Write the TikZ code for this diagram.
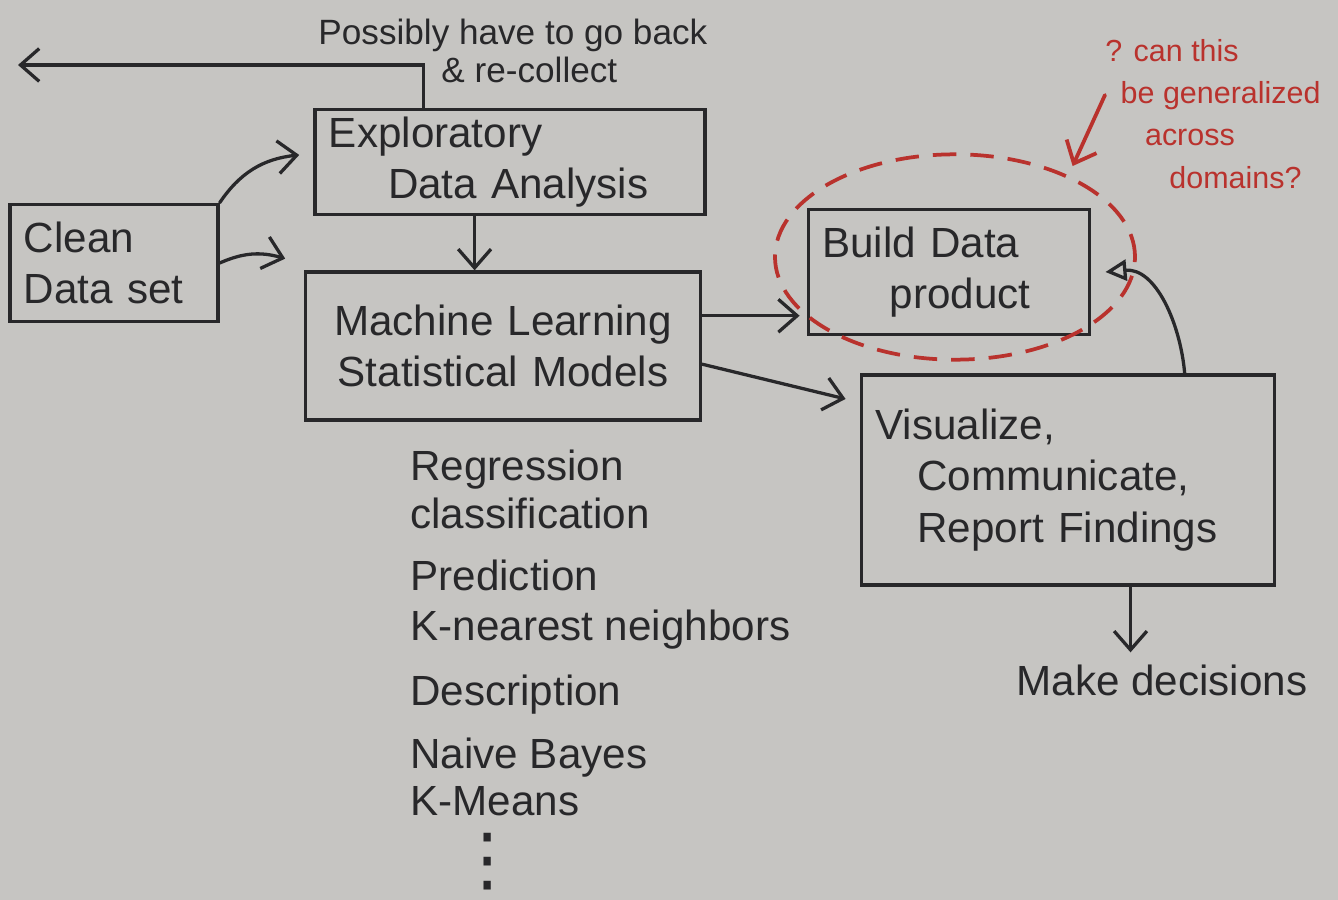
\documentclass[tikz,border=0pt]{standalone}
\usepackage{fontspec}
\setmainfont{Liberation Sans}
\newfontfamily\dotsfont{DejaVu Sans}
\usetikzlibrary{calc,arrows.meta,shapes.geometric}
\definecolor{paper}{RGB}{198,197,194}
\definecolor{ink}{RGB}{40,40,42}
\definecolor{redink}{RGB}{185,50,45}
\tikzset{
  box/.style={draw=ink,line width=1.4pt,text=ink,align=left,inner xsep=6pt,inner ysep=2pt},
  hand/.style={text=ink,align=left,inner sep=0pt},
  pen/.style={draw=ink,line width=1.4pt,line cap=round,->},
  redpen/.style={draw=redink,line width=1.6pt,line cap=round,->},
}

\begin{document}
\begin{tikzpicture}[x=0.015cm,y=-0.015cm,>={Straight Barb[length=8pt,width=14pt]},font=\fontsize{18}{22}\selectfont]
  \fill[paper] (0,0) rectangle (1338,900);
  \node[box,text width=2.7cm,minimum height=1.76cm] (clean) at (114,263) {Clean\\Data set};
  \node[box,text width=5.43cm,minimum height=1.58cm] (eda) at (510,162) {Exploratory\\\hspace{1.4em}Data Analysis};
  \node[box,text width=5.5cm,minimum height=2.22cm,align=center] (ml) at (503,346) {Machine Learning\\Statistical Models};
  \node[box,text width=3.8cm,minimum height=1.88cm] (build) at (949,272) {Build Data\\\hspace{1.6em}product};
  \node[box,text width=5.78cm,minimum height=3.15cm] (vis) at (1068,480) {Visualize,\\\quad Communicate,\\\quad Report Findings};
  \node[ellipse,draw=redink,line width=1.6pt,dash pattern=on 10pt off 6pt,minimum width=5.4cm,minimum height=3.08cm] (halo) at (955,257) {};
  \node[hand] (decide) at (1162,680) {Make decisions};
  \node[hand,anchor=north west,font=\fontsize{15}{16}\selectfont] (recollect) at (318,19) {Possibly have to go back\\\hspace{3.5em}\& re-collect};
  \node[hand,anchor=north west,text=redink,font=\fontsize{13}{18}\selectfont] (ask) at (1105,39) {? can this\\\hspace{0.5em}be generalized\\\hspace{1.3em}across\\\hspace{2.1em}domains?};
  \foreach \m/\y [count=\i] in {Regression/480,classification/528,Prediction/590,K-nearest neighbors/640,Description/705,Naive Bayes/768,K-Means/815}
    \node[hand,anchor=base west] (m\i) at (410,\y) {\m};
  \node[hand,font=\dotsfont\fontsize{30}{30}\selectfont] (more) at (488,862) {⋮};
  \coordinate (back) at (18,65);
  \coordinate (tip) at (1105,95);
  \draw[pen] ($(eda.north west)!0.28!(eda.north east)$) |- (back);
  \draw[pen] (clean.north east) to[bend left=25] ([xshift=-6pt,yshift=3pt]eda.west);
  \draw[pen] (clean.east) to[bend left=20] ([xshift=-8pt,yshift=5pt]ml.north west);
  \draw[pen] ($(eda.south west)!0.41!(eda.south east)$) coordinate (d) -- (d |- ml.north);
  \draw[pen] ($(ml.north east)!0.3!(ml.south east)$) coordinate (a) -- ([xshift=-3pt]a -| build.west);
  \draw[pen] ($(ml.north east)!0.62!(ml.south east)$) -- ([xshift=-6pt]$(vis.north west)!0.12!(vis.south west)$);
  \draw[draw=ink,line width=1.4pt,-{Triangle[open,length=9pt,width=9pt]}] ($(vis.north west)!0.78!(vis.north east)$) to[out=95,in=5] ([xshift=6pt]build.east);
  \draw[pen,shorten >=5pt] ($(vis.south west)!0.65!(vis.south east)$) coordinate (v) -- (v |- decide.north);
  \draw[redpen,shorten >=8pt] (tip) -- ([xshift=-8pt]halo.north east);
\end{tikzpicture}
\end{document}
